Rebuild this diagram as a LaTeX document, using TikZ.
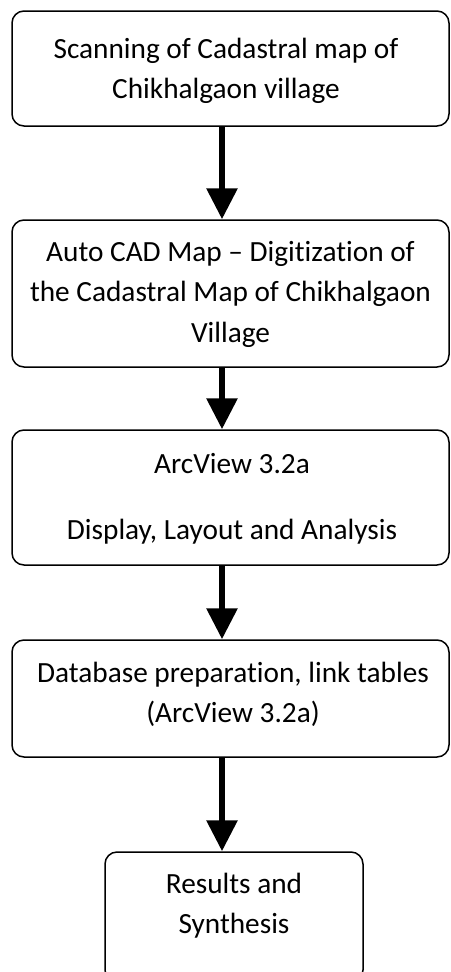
\documentclass[tikz,border=0pt]{standalone}
\usepackage{fontspec}
\setmainfont{Carlito}[Ligatures=NoCommon]
\usetikzlibrary{arrows.meta}
\begin{document}
\begin{tikzpicture}[x=1pt,y=-1pt,
  box/.style={draw=black, line width=1.5pt, rounded corners=12pt, inner sep=0pt},
  txt/.style={align=flush center, inner sep=0pt, text width=440pt, anchor=base,
              font=\fontsize{29.3}{40.5}\selectfont},
  arr/.style={line width=6pt, -{Triangle[length=31pt,width=30pt]}}]
\useasboundingbox (0,0) rectangle (450,972);
% boxes
\node[box, minimum width=437pt, minimum height=115pt] (b1) at (230.5,68.5) {};
\node[box, minimum width=437pt, minimum height=147pt] (b2) at (230.5,293.5) {};
\node[box, minimum width=437pt, minimum height=135pt] (b3) at (230.5,497.5) {};
\node[box, minimum width=437pt, minimum height=117pt] (b4) at (230.5,698.5) {};
\node[box, minimum width=258pt, minimum height=130pt] (b5) at (234,917) {};
% texts
\node[txt] (t1) at (226,58) {Scanning of Cadastral map of\\Chikhalgaon village};
\node[txt] (t2) at (230.5,261) {Auto CAD Map -- Digitization of\\the Cadastral Map of Chikhalgaon\\Village};
\node[txt] (t3) at (232,473) {ArcView 3.2a\\[25.5pt]Display, Layout and Analysis};
\node[txt] (t4) at (233,682) {Database preparation, link tables\\(ArcView 3.2a)};
\node[txt] (t5) at (234,893) {Results and\\Synthesis};
% arrows
\coordinate (ax) at (222,0);
\draw[arr] (b1.south -| ax) -- (b2.north -| ax);
\draw[arr] (b2.south -| ax) -- (b3.north -| ax);
\draw[arr] (b3.south -| ax) -- (b4.north -| ax);
\draw[arr] (b4.south -| ax) -- (b5.north -| ax);
\end{tikzpicture}
\end{document}
